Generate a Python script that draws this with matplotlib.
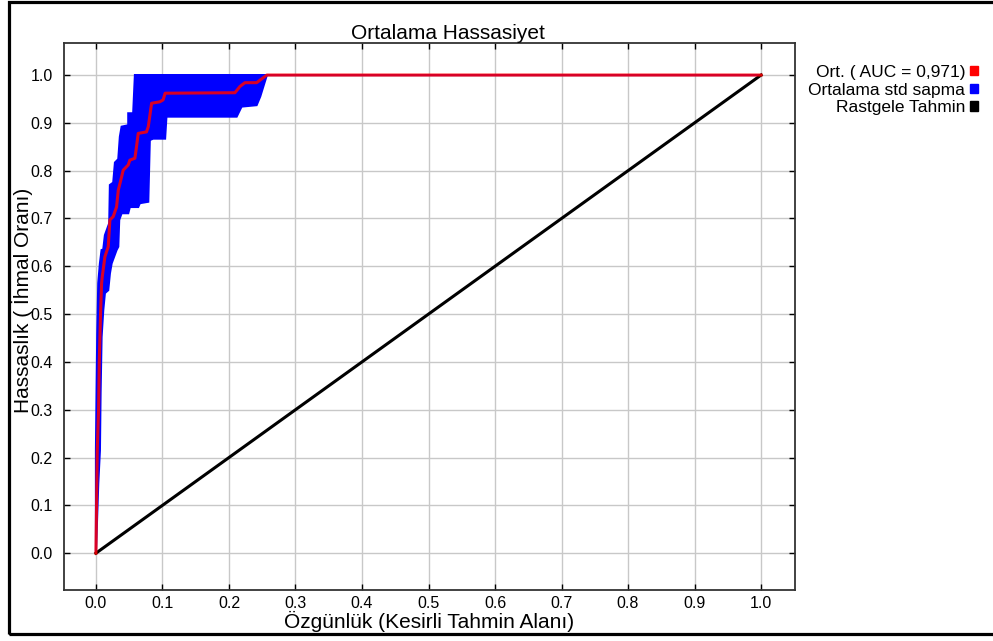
import matplotlib
matplotlib.use('Agg')
import matplotlib.pyplot as plt
import matplotlib.patches as mpatches

plt.rcParams['font.family'] = ['Liberation Sans Narrow', 'Liberation Sans', 'DejaVu Sans']

# mean ROC curve (red)
mean_fpr = [0.0, 0.002, 0.004, 0.005, 0.007, 0.0085, 0.0095, 0.0135, 0.0185, 0.021,
            0.026, 0.031, 0.0336, 0.0386, 0.041, 0.0486, 0.051, 0.0586, 0.061, 0.0636,
            0.076, 0.0787, 0.0837, 0.096, 0.101, 0.104, 0.209, 0.2165, 0.224, 0.2416,
            0.257, 1.0]
mean_tpr = [0.0, 0.215, 0.30, 0.40, 0.503, 0.564, 0.578, 0.62, 0.641, 0.697,
            0.704, 0.724, 0.759, 0.787, 0.801, 0.812, 0.822, 0.826, 0.850, 0.878,
            0.881, 0.892, 0.941, 0.944, 0.948, 0.962, 0.963, 0.976, 0.984, 0.984,
            1.0, 1.0]

# std band: upper edge
upper_fpr = [0.0, 0.0, 0.001, 0.002, 0.0035, 0.006, 0.0085, 0.011, 0.0135, 0.020,
             0.021, 0.026, 0.0286, 0.0336, 0.036, 0.0386, 0.0486, 0.0486, 0.056, 0.0586, 1.0]
upper_tpr = [0.0, 0.215, 0.34, 0.46, 0.565, 0.606, 0.634, 0.635, 0.665, 0.69,
             0.77, 0.775, 0.817, 0.824, 0.871, 0.892, 0.895, 0.92, 0.92, 1.0, 1.0]

# std band: lower edge
lower_fpr = [0.0, 0.0035, 0.006, 0.007, 0.0085, 0.011, 0.0135, 0.0185, 0.021, 0.0236,
             0.031, 0.0336, 0.035, 0.0386, 0.0486, 0.051, 0.0636, 0.066, 0.0787, 0.081,
             0.086, 0.104, 0.106, 0.2116, 0.2165, 0.219, 0.2416, 0.247, 0.257, 1.0]
lower_tpr = [0.0, 0.146, 0.215, 0.335, 0.452, 0.508, 0.544, 0.55, 0.585, 0.606,
             0.634, 0.641, 0.697, 0.711, 0.711, 0.724, 0.724, 0.732, 0.735, 0.864,
             0.867, 0.867, 0.913, 0.913, 0.927, 0.934, 0.937, 0.955, 1.0, 1.0]

chance = [0.0, 1.0]
ticks = [0.0, 0.1, 0.2, 0.3, 0.4, 0.5, 0.6, 0.7, 0.8, 0.9, 1.0]
auc_label = "Ort. ( AUC = 0,971)"

fig = plt.figure(figsize=(9.93, 6.41), dpi=100)
ax = fig.add_axes([64 / 993, 1 - 590 / 641, (795 - 64) / 993, (590 - 43) / 641])

ax.grid(True, color="#c8c8c8", linewidth=1.0)
ax.set_axisbelow(True)

band_x = upper_fpr + lower_fpr[::-1]
band_y = upper_tpr + lower_tpr[::-1]
ax.fill(band_x, band_y, color="blue", edgecolor="blue", linewidth=1.5, zorder=2)
ax.plot(chance, chance, color="black", linewidth=2.2, zorder=3)
ax.plot(mean_fpr, mean_tpr, color="red", linewidth=2.2, alpha=0.85, zorder=4)

ax.set_xlim(-0.048, 1.051)
ax.set_ylim(-0.077, 1.067)
ax.set_xticks(ticks)
ax.set_yticks(ticks)
ax.set_xticklabels([f"{t:.1f}" for t in ticks])
ax.set_yticklabels([f"{t:.1f}" for t in ticks])
ax.tick_params(direction="in", length=4, width=1, top=True, right=True,
               labelsize=11.5, colors="black")
ax.tick_params(axis="x", pad=4)
ax.tick_params(axis="y", pad=8)
for s in ax.spines.values():
    s.set_linewidth(1.3)
    s.set_color("#333333")

ax.set_title("Ortalama Hassasiyet", fontsize=15, pad=3, x=0.525)
ax.set_xlabel("Özgünlük (Kesirli Tahmin Alanı)", fontsize=15)
ax.set_ylabel("Hassaslık ( İhmal Oranı)", fontsize=15)
ax.xaxis.set_label_coords(0.5, -0.038)
ax.yaxis.set_label_coords(-0.043, 0.53)

handles = [
    mpatches.Patch(color="red", label=auc_label),
    mpatches.Patch(color="blue", label="Ortalama std sapma"),
    mpatches.Patch(color="black", label="Rastgele Tahmin"),
]
fig.legend(handles=handles, loc="upper right", bbox_to_anchor=(985 / 993, 1 - 58 / 641),
           markerfirst=False, frameon=False, fontsize=12.5, handlelength=0.45,
           handleheight=0.45, handletextpad=0.3, labelspacing=0.15, borderaxespad=0)

# outer black frame
frame = mpatches.Rectangle((8.5 / 993, 1 - 633.5 / 641), 1.0, (633.5 - 1.5) / 641,
                           transform=fig.transFigure, fill=False, edgecolor="black",
                           linewidth=2.3, clip_on=False)
fig.patches.append(frame)

fig.savefig("out.png", dpi=100)
plt.close(fig)
